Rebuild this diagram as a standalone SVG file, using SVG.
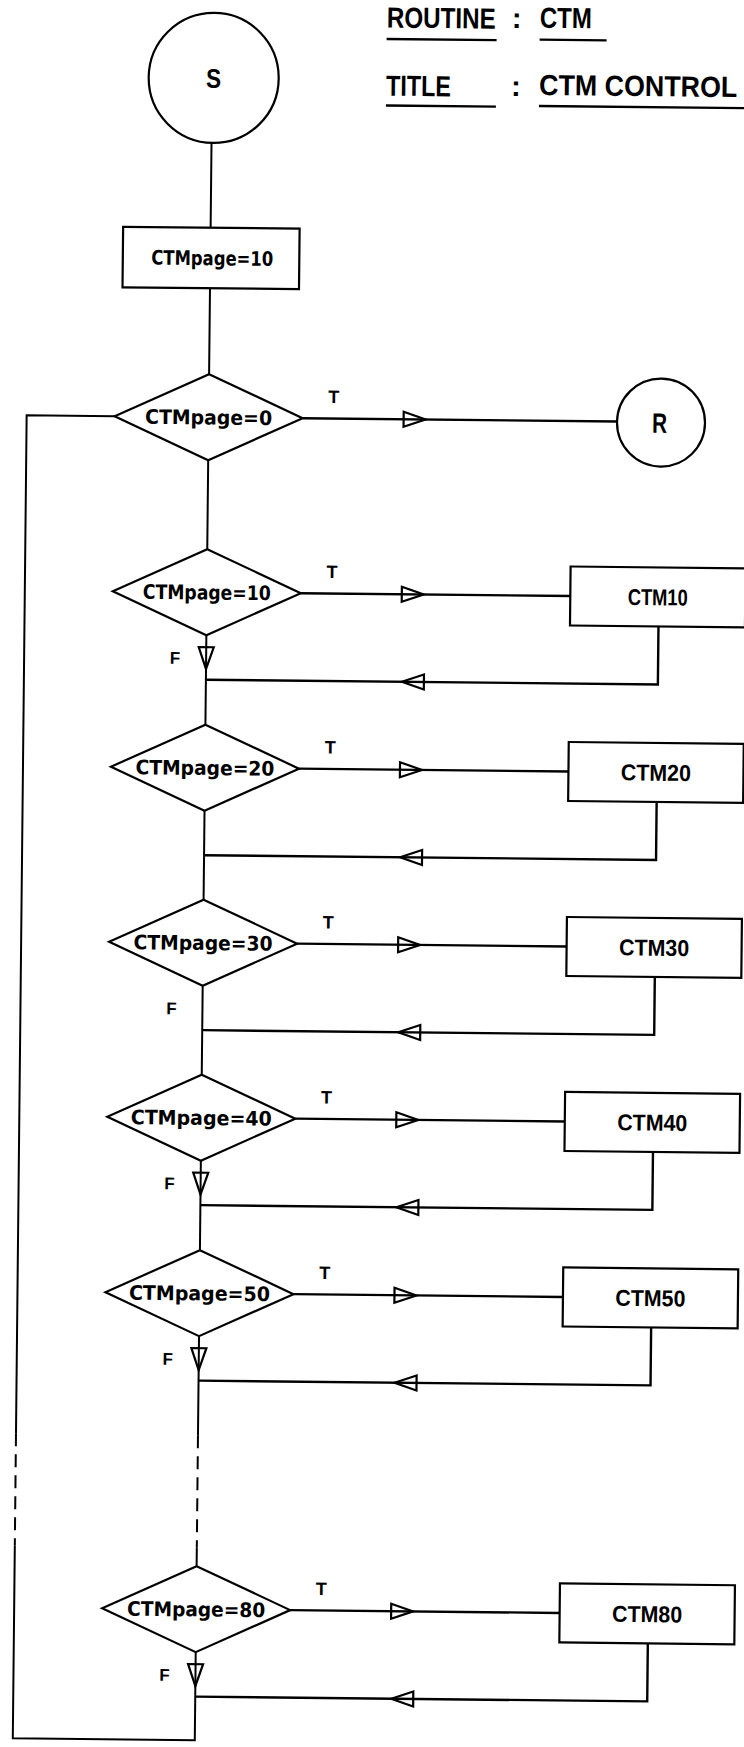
<svg xmlns="http://www.w3.org/2000/svg" width="744" height="1747" viewBox="0 0 744 1747">
<style>
.ln{fill:none;stroke:#000;stroke-width:2}
.th{fill:none;stroke:#000;stroke-width:2.4}
.da{fill:none;stroke:#000;stroke-width:2;stroke-dasharray:13 8}
.nd{fill:#fff;stroke:#000;stroke-width:2.2}
.ah{fill:none;stroke:#000;stroke-width:2.2;stroke-linejoin:miter}
.t{font-family:"Liberation Sans",Arial,sans-serif;font-weight:bold;fill:#000;text-anchor:middle}
.dj{font-family:"DejaVu Sans","Liberation Sans",sans-serif;font-weight:bold;fill:#000;text-anchor:middle;font-size:20px}
.bx{font-size:23px}
.tf{font-size:18px}
.ff{font-size:17px}
.ti{font-family:"Liberation Sans",Arial,sans-serif;font-weight:bold;fill:#000;font-size:29px}
</style>
<defs>
<path id="ar" class="ah" d="M-11,-7.5 L11,0 L-11,7.5 Z"/>
<path id="al" class="ah" d="M11,-7.5 L-11,0 L11,7.5 Z"/>
<path id="ad" class="ah" d="M-7.5,-11 L7.5,-11 L0,11 Z"/>
</defs>
<rect width="744" height="1747" fill="#fff"/>
<g transform="rotate(0.6)">
<g id="header">
<text class="ti" transform="translate(387,23.4) scale(0.835,1)">ROUTINE</text>
<text class="ti" x="512" y="22.6">:</text>
<text class="ti" transform="translate(540,22.1) scale(0.828,1)">CTM</text>
<text class="ti" transform="translate(387,91.6) scale(0.806,1)">TITLE</text>
<text class="ti" x="512" y="90.6">:</text>
<text class="ti" transform="translate(540,89.3) scale(0.925,1)">CTM CONTROL</text>
<path class="th" d="M387,34.9 H497 M540,34 H607 M387,101.4 H497 M540,100.3 H748"/>
</g>
<g id="connectors">
<path class="ln" d="M213,140.7 V225.5 M213,286 V372 M213,458 V547"/>
<path class="th" d="M307,415 H621"/>
<path class="ln" d="M119,415 H31 V1433 M31,1545 V1738 H213 V1650"/>
<path class="da" d="M31,1433 V1545 M213,1433 V1545"/>
<path class="th" d="M307,590 H576.5 M665,619.5 V677.5 H213"/>
<path class="ln" d="M213,633 V722.5"/>
<path class="th" d="M307,765.5 H576.5 M665,795 V853 H213"/>
<path class="ln" d="M213,808.5 V897.5"/>
<path class="th" d="M307,940.5 H576.5 M665,970 V1028 H213"/>
<path class="ln" d="M213,983.5 V1072.5"/>
<path class="th" d="M307,1115.5 H576.5 M665,1145 V1203 H213"/>
<path class="ln" d="M213,1158.5 V1248"/>
<path class="th" d="M307,1291 H576.5 M665,1320.5 V1378.5 H213"/>
<path class="ln" d="M213,1334 V1433 M213,1545 V1564"/>
<path class="th" d="M307,1607 H576.5 M665,1636.5 V1694.5 H213"/>
<use href="#ar" x="419" y="415"/>
<use href="#ar" x="419" y="590"/>
<use href="#ar" x="419" y="765.5"/>
<use href="#ar" x="419" y="940.5"/>
<use href="#ar" x="419" y="1115.5"/>
<use href="#ar" x="419" y="1291"/>
<use href="#ar" x="419" y="1607"/>
<use href="#al" x="420" y="677.5"/>
<use href="#al" x="420" y="853"/>
<use href="#al" x="420" y="1028"/>
<use href="#al" x="420" y="1203"/>
<use href="#al" x="420" y="1378.5"/>
<use href="#al" x="420" y="1694.5"/>
<use href="#ad" x="213" y="656"/>
<use href="#ad" x="213" y="1181.5"/>
<use href="#ad" x="213" y="1357"/>
<use href="#ad" x="213" y="1673"/>
<g class="t tf">
<text x="338" y="399.5">T</text>
<text x="338" y="574.5">T</text>
<text x="338" y="750">T</text>
<text x="338" y="925">T</text>
<text x="338" y="1100">T</text>
<text x="338" y="1275.5">T</text>
<text x="338" y="1591.5">T</text>
</g>
<g class="t ff">
<text x="182" y="662">F</text>
<text x="182" y="1012.5">F</text>
<text x="182" y="1187.5">F</text>
<text x="182" y="1363">F</text>
<text x="182" y="1679">F</text>
</g>
</g>
<g id="start">
<circle class="nd" cx="214.5" cy="75.7" r="65"/>
<text class="t" x="214.5" y="85.7" font-size="27" textLength="15" lengthAdjust="spacingAndGlyphs">S</text>
</g>
<g id="init">
<rect class="nd" x="125.5" y="225.5" width="176.5" height="60.5"/>
<text class="dj" x="215" y="263" textLength="122" lengthAdjust="spacingAndGlyphs">CTMpage=10</text>
</g>
<g id="d0">
<polygon class="nd" points="213,372 307,415 213,458 119,415"/>
<text class="dj" x="213" y="422.3" textLength="127" lengthAdjust="spacingAndGlyphs">CTMpage=0</text>
</g>
<g id="ret">
<circle class="nd" cx="665.4" cy="415.6" r="44"/>
<text class="t" x="664" y="426" font-size="28" textLength="15" lengthAdjust="spacingAndGlyphs">R</text>
</g>
<g id="d10">
<polygon class="nd" points="213,547 307,590 213,633 119,590"/>
<text class="dj" x="213" y="597.3" textLength="128" lengthAdjust="spacingAndGlyphs">CTMpage=10</text>
</g>
<g id="b10">
<rect class="nd" x="576.5" y="560.5" width="175" height="59"/>
<text class="t bx" x="664" y="598.3" textLength="60" lengthAdjust="spacingAndGlyphs">CTM10</text>
</g>
<g id="d20">
<polygon class="nd" points="213,722.5 307,765.5 213,808.5 119,765.5"/>
<text class="dj" x="213" y="772.8" textLength="139" lengthAdjust="spacingAndGlyphs">CTMpage=20</text>
</g>
<g id="b20">
<rect class="nd" x="576.5" y="736" width="175" height="59"/>
<text class="t bx" x="664" y="773.8" textLength="70" lengthAdjust="spacingAndGlyphs">CTM20</text>
</g>
<g id="d30">
<polygon class="nd" points="213,897.5 307,940.5 213,983.5 119,940.5"/>
<text class="dj" x="213" y="947.8" textLength="139" lengthAdjust="spacingAndGlyphs">CTMpage=30</text>
</g>
<g id="b30">
<rect class="nd" x="576.5" y="911" width="175" height="59"/>
<text class="t bx" x="664" y="948.8" textLength="70" lengthAdjust="spacingAndGlyphs">CTM30</text>
</g>
<g id="d40">
<polygon class="nd" points="213,1072.5 307,1115.5 213,1158.5 119,1115.5"/>
<text class="dj" x="213" y="1122.8" textLength="141" lengthAdjust="spacingAndGlyphs">CTMpage=40</text>
</g>
<g id="b40">
<rect class="nd" x="576.5" y="1086" width="175" height="59"/>
<text class="t bx" x="664" y="1123.8" textLength="70" lengthAdjust="spacingAndGlyphs">CTM40</text>
</g>
<g id="d50">
<polygon class="nd" points="213,1248 307,1291 213,1334 119,1291"/>
<text class="dj" x="213" y="1298.3" textLength="141" lengthAdjust="spacingAndGlyphs">CTMpage=50</text>
</g>
<g id="b50">
<rect class="nd" x="576.5" y="1261.5" width="175" height="59"/>
<text class="t bx" x="664" y="1299.3" textLength="70" lengthAdjust="spacingAndGlyphs">CTM50</text>
</g>
<g id="d80">
<polygon class="nd" points="213,1564 307,1607 213,1650 119,1607"/>
<text class="dj" x="213" y="1614.3" textLength="138" lengthAdjust="spacingAndGlyphs">CTMpage=80</text>
</g>
<g id="b80">
<rect class="nd" x="576.5" y="1577.5" width="175" height="59"/>
<text class="t bx" x="664" y="1615.3" textLength="70" lengthAdjust="spacingAndGlyphs">CTM80</text>
</g>
</g>
</svg>
